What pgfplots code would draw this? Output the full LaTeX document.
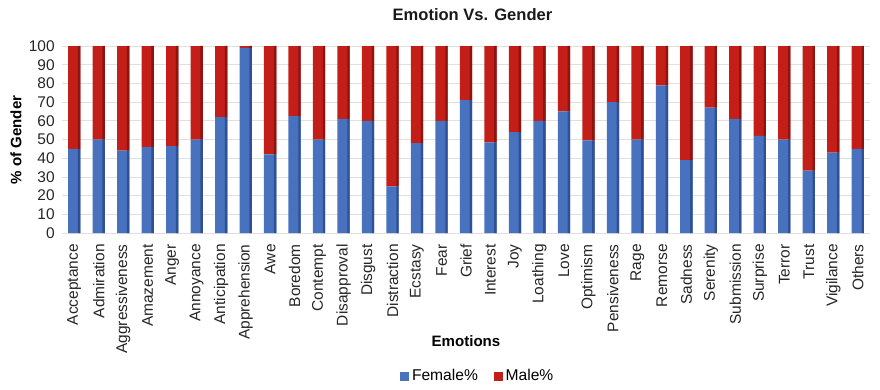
\documentclass[border=0pt]{standalone}
\usepackage{pgfplots}
\pgfplotsset{compat=1.18}
\usepackage{fontspec}
\setmainfont{Liberation Sans}

\definecolor{femA}{RGB}{72,114,190}
\definecolor{femD}{RGB}{48,80,150}
\definecolor{malA}{RGB}{196,30,24}
\definecolor{malD}{RGB}{142,20,16}

\pgfplotstableread{
idx female male
0  45   55
1  50   50
2  44   56
3  46   54
4  46.5 53.5
5  50   50
6  62   38
7  99   1
8  42   58
9  62.5 37.5
10 50   50
11 61   39
12 60   40
13 25   75
14 48   52
15 60   40
16 71   29
17 48.5 51.5
18 54   46
19 60   40
20 65   35
21 49.5 50.5
22 70   30
23 50   50
24 79   21
25 39   61
26 67   33
27 61   39
28 52   48
29 50   50
30 33.3 66.7
31 43   57
32 45   55
}\gender

\pgfplotsset{gbase/.style={
  scale only axis,
  width=606pt, height=140.25pt,
  at={(0,0)}, anchor=south west,
  ybar stacked,
  xmin=-0.5, xmax=32.5,
  ymin=0, ymax=100,
}}

\begin{document}
\begin{tikzpicture}
\begin{axis}[
  gbase,
  bar width=9.2pt,
  ytick={0,10,...,100},
  xtick=data,
  xticklabels={Acceptance,Admiration,Aggressiveness,Amazement,Anger,Annoyance,Anticipation,Apprehension,Awe,Boredom,Contempt,Disapproval,Disgust,Distraction,Ecstasy,Fear,Grief,Interest,Joy,Loathing,Love,Optimism,Pensiveness,Rage,Remorse,Sadness,Serenity,Submission,Surprise,Terror,Trust,Vigilance,Others},
  /pgf/number format/assume math mode=true,
  tick label style={font=\fontsize{11.6}{13}\selectfont, text=black!85},
  xticklabel style={rotate=90, anchor=east},
  xticklabel shift=5pt,
  yticklabel style={xshift=-2pt},
  axis line style={draw=none},
  tick style={draw=none},
  ymajorgrids,
  major grid style={draw=black!12, line width=0.6pt},
  title={\fontsize{12.4}{14}\selectfont\bfseries Emotion Vs. Gender},
  every axis title/.style={at={(0.508,1.169)}, anchor=center, text=black!90},
  xlabel={\bfseries Emotions},
  every axis x label/.style={at={(0.5,-0.578)}, anchor=center, font=\fontsize{11.3}{13}\selectfont},
  ylabel={\bfseries \% of Gender},
  every axis y label/.style={at={(-0.057,0.497)}, rotate=90, anchor=center, font=\fontsize{11.3}{13}\selectfont},
  legend style={at={(0.515,-0.765)}, anchor=center, draw=none, fill=none,
    legend columns=2, font=\fontsize{11.7}{13}\selectfont,
    /tikz/every even column/.append style={column sep=10pt}},
  legend cell align=left,
]
% front faces
\addplot+[draw=none, fill=femA,
  legend image code/.code={\fill[femA] (0pt,-3.4pt) rectangle (6.8pt,3.4pt);}]
  table[x=idx, y=female] {\gender};
\addlegendentry{Female\%}
\addplot+[draw=none, fill=malA,
  legend image code/.code={\fill[malA] (0pt,-3.4pt) rectangle (6.8pt,3.4pt);}]
  table[x=idx, y=male] {\gender};
\addlegendentry{Male\%}
\end{axis}
% shaded right-hand side of each bar
\begin{axis}[gbase, hide axis, bar width=1.8pt, bar shift=3.7pt]
\addplot+[draw=none, fill=femD] table[x=idx, y=female] {\gender};
\addplot+[draw=none, fill=malD] table[x=idx, y=male] {\gender};
\end{axis}
\pgfresetboundingbox
\path (-46.5pt,-117pt) rectangle (613.5pt,174.75pt);
\end{tikzpicture}
\end{document}
